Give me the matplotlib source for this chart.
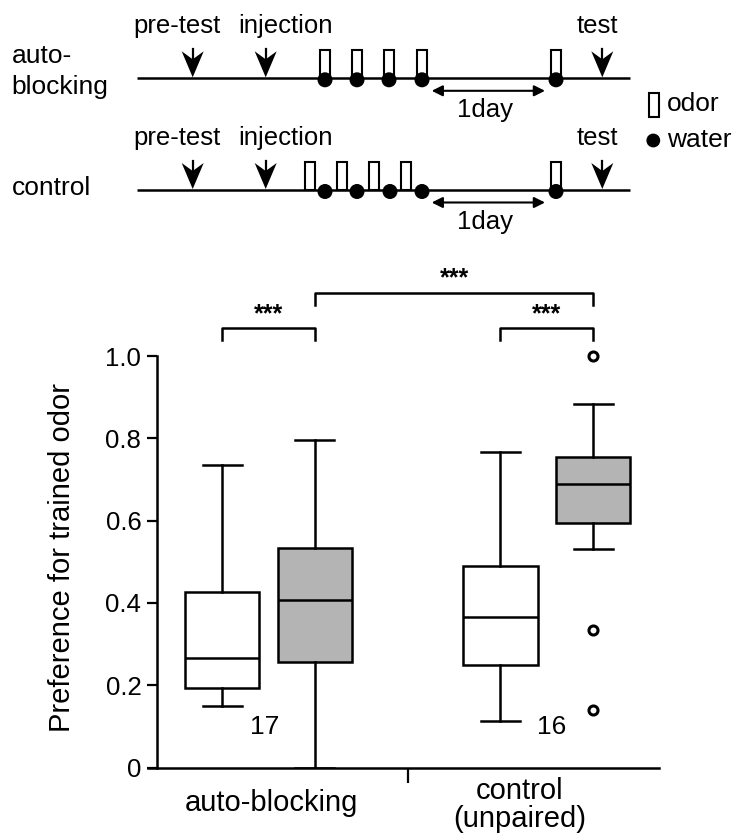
import matplotlib
matplotlib.use("Agg")
import matplotlib.pyplot as plt
from matplotlib.patches import Rectangle, Circle, Polygon

plt.rcParams["font.family"] = ["Liberation Sans", "DejaVu Sans"]

# box plot values
box_pos = [1, 2, 4, 5]
whislo = [0.150, 0.0, 0.112, 0.530]
q1 = [0.192, 0.256, 0.248, 0.595]
med = [0.267, 0.406, 0.365, 0.689]
q3 = [0.427, 0.534, 0.489, 0.754]
whishi = [0.736, 0.795, 0.766, 0.883]
fliers = [[], [], [], [1.0, 0.333, 0.140]]
box_colors = ["white", "#b4b4b4", "white", "#b4b4b4"]
n_text = ["17", "16"]
n_pos = [(1.46, 0.098), (4.55, 0.098)]
group_labels = ["auto-blocking", "control\n(unpaired)"]
yticks = [0, 0.2, 0.4, 0.6, 0.8, 1.0]
ytick_labels = ["0", "0.2", "0.4", "0.6", "0.8", "1.0"]
# significance brackets: (x1, x2, level)
brackets = [(1, 2, 0), (4, 5, 0), (2, 5, 1)]

# schematic (pixel layout of the protocol timeline)
rows = ["auto-\nblocking", "control"]
row_y = [78.3, 190.0]
arrow_x = [192.7, 265.7, 602.3]
arrow_text = ["pre-test", "injection", "test"]
odor_x = [[325, 357, 389, 422, 556], [310, 342, 374, 406, 556]]
water_x = [[325, 357, 389, 422, 556], [325, 357, 390, 422, 556]]

W, H = 735, 836
fig = plt.figure(figsize=(W / 100, H / 100), dpi=100)

# overlay axes in pixel coords for the schematic and free texts
ax0 = fig.add_axes([0, 0, 1, 1])
ax0.set_xlim(0, W)
ax0.set_ylim(H, 0)
ax0.axis("off")

fs = 18.5
for r, y in enumerate(row_y):
    ax0.plot([136.7, 630], [y, y], color="black", lw=1.8, solid_capstyle="butt")
    for x, t in zip(arrow_x, arrow_text):
        ax0.add_patch(Polygon([(x, y - 1), (x - 11, y - 27), (x, y - 19), (x + 11, y - 27)],
                              closed=True, color="black", lw=0))
        ax0.plot([x, x], [y - 29, y - 18], color="black", lw=1.6)
    ax0.text(133, y - 45, "pre-test", fontsize=fs, va="baseline", ha="left")
    ax0.text(238, y - 45, "injection", fontsize=fs, va="baseline", ha="left")
    ax0.text(597.5, y - 45, "test", fontsize=fs, va="baseline", ha="center")
    for x in odor_x[r]:
        ax0.add_patch(Rectangle((x - 5, y - 28), 10, 28, facecolor="white",
                                edgecolor="black", lw=1.5, zorder=3))
    for x in water_x[r]:
        ax0.add_patch(Circle((x, y + 1.5), 6.8, color="black", zorder=4))
    ax0.annotate("", xy=(545, y + 12.5), xytext=(431.7, y + 12.5),
                 arrowprops=dict(arrowstyle="<|-|>", color="black", lw=1.5,
                                 mutation_scale=16, shrinkA=0, shrinkB=0))
    ax0.text(485, y + 39, "1day", fontsize=fs, va="baseline", ha="center")

ax0.text(11.7, 63.3, "auto-", fontsize=fs + 0.5, va="baseline")
ax0.text(11.7, 94.3, "blocking", fontsize=fs + 0.5, va="baseline")
ax0.text(11.7, 195, "control", fontsize=fs + 0.5, va="baseline")

# legend of schematic
ax0.add_patch(Rectangle((649.5, 93), 10, 24, facecolor="white", edgecolor="black", lw=1.5))
ax0.text(666.7, 111, "odor", fontsize=fs + 0.5, va="baseline")
ax0.add_patch(Circle((653.3, 140.5), 6.2, color="black"))
ax0.text(666.7, 147, "water", fontsize=fs + 0.5, va="baseline")

# main box plot axes
ax = fig.add_axes([148 / W, (H - 767.5) / H, 511 / W, 411.5 / H])
ax.patch.set_alpha(0)
stats = []
for i in range(len(box_pos)):
    stats.append(dict(whislo=whislo[i], q1=q1[i], med=med[i], q3=q3[i],
                      whishi=whishi[i], fliers=fliers[i]))
bp = ax.bxp(stats, positions=box_pos, widths=0.8, capwidths=0.42, patch_artist=True,
            boxprops=dict(lw=1.8, edgecolor="black"),
            medianprops=dict(color="black", lw=1.8),
            whiskerprops=dict(color="black", lw=1.8),
            capprops=dict(color="black", lw=1.8),
            flierprops=dict(marker="o", markersize=6.5, markerfacecolor="white",
                            markeredgecolor="black", markeredgewidth=2.2))
for patch, c in zip(bp["boxes"], box_colors):
    patch.set_facecolor(c)
for fl in bp["fliers"]:
    fl.set_clip_on(False)

ax.set_xlim(0.2, 5.71)
ax.set_ylim(0, 1)
for s in ["top", "right"]:
    ax.spines[s].set_visible(False)
ax.spines["left"].set_position(("data", 0.3))
ax.spines["left"].set_bounds(0, 1)
ax.spines["left"].set_linewidth(1.8)
ax.spines["bottom"].set_linewidth(1.8)
ax.set_yticks(yticks)
ax.set_yticklabels(ytick_labels, fontsize=18.5)
ax.tick_params(axis="y", length=7, width=1.6, pad=4.5, color="black")
ax.set_xticks([3])
ax.set_xticklabels([""])
ax.tick_params(axis="x", length=11, width=1.6)

for (x, y), t in zip(n_pos, n_text):
    ax.text(x, y, t, fontsize=19, ha="center", va="center")

for x1, x2, lev in brackets:
    top = 1.067 if lev == 0 else 1.154
    leg = 0.029 if lev == 0 else 0.031
    ax.plot([x1, x1, x2, x2], [top - leg, top, top, top - leg], color="black",
            lw=1.8, clip_on=False)
    ax.text((x1 + x2) / 2, top + 0.018, "***", fontsize=18, fontweight="bold",
            ha="center", va="baseline", clip_on=False)

# axis labels (pixel placed)
ax0.text(61.7, 558, "Preference for trained odor", fontsize=21, rotation=90,
         ha="center", va="center")
ax0.text(271, 803, group_labels[0], fontsize=21, ha="center", va="center")
ax0.text(520, 805, group_labels[1], fontsize=21, ha="center", va="center",
         linespacing=1.0)

fig.savefig("out.png", dpi=100)
